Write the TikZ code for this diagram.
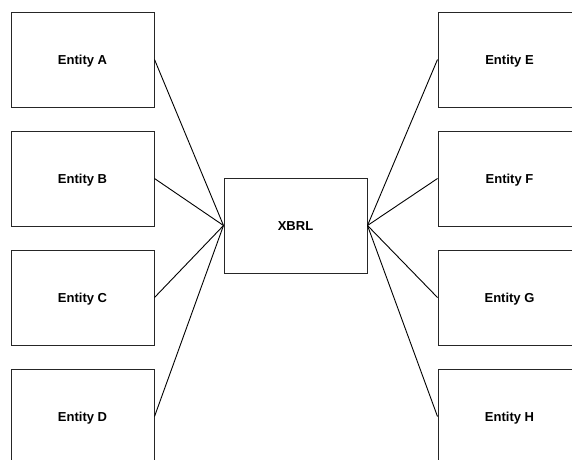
\documentclass[tikz,border=0pt]{standalone}
\usepackage{fontspec}
\setmainfont{Liberation Sans}
\begin{document}
\begin{tikzpicture}[x=1pt,y=-1pt,
  ent/.style={draw=black!85,line width=1pt,minimum width=143pt,minimum height=95pt,inner sep=0pt,text height=9.4pt,text depth=0pt,font=\fontsize{13}{15}\selectfont\bfseries},
  conn/.style={draw=black,line width=0.9pt}]
\useasboundingbox (0,0) rectangle (572,459);
\clip (0,0) rectangle (572,459);
\fill[white] (0,0) rectangle (572,459);
\node[ent] (x) at (295.5,225.5) {XBRL};
\node[ent] (a) at (82.5,59.5) {Entity A};
\node[ent] (b) at (82.5,178.5) {Entity B};
\node[ent] (c) at (82.5,297.5) {Entity C};
\node[ent] (d) at (82.5,416.5) {Entity D};
\node[ent] (e) at (509.5,59.5) {Entity E};
\node[ent] (f) at (509.5,178.5) {Entity F};
\node[ent] (g) at (509.5,297.5) {Entity G};
\node[ent] (h) at (509.5,416.5) {Entity H};
\foreach \n in {a,b,c,d} \draw[conn] (\n.east) -- (x.west);
\foreach \n in {e,f,g,h} \draw[conn] (x.east) -- (\n.west);
\end{tikzpicture}
\end{document}
